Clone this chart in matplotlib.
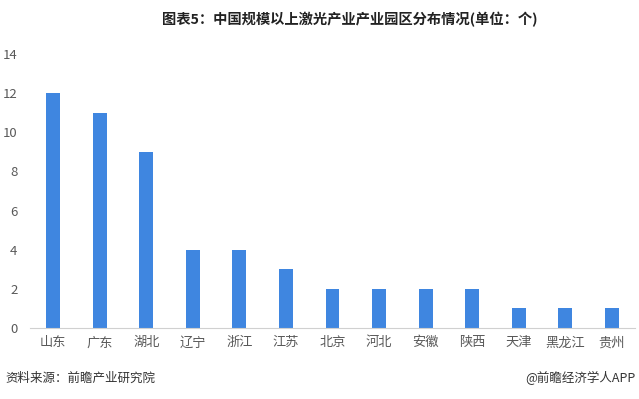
import matplotlib
matplotlib.use('Agg')
import matplotlib.pyplot as plt

plt.rcParams['font.family'] = ['Noto Sans CJK SC', 'DejaVu Sans']

# data
provinces = ['山东', '广东', '湖北', '辽宁', '浙江', '江苏', '北京', '河北',
             '安徽', '陕西', '天津', '黑龙江', '贵州']
counts = [12, 11, 9, 4, 4, 3, 2, 2, 2, 2, 1, 1, 1]
yticks = [0, 2, 4, 6, 8, 10, 12, 14]

W, H = 639, 399
fig = plt.figure(figsize=(W / 100, H / 100), dpi=100)
ax = fig.add_axes([30 / W, (H - 328) / H, 605 / W, 274 / H])

x = range(len(provinces))
ax.bar(x, counts, width=0.3, color='#3f86e0', zorder=2)
ax.set_xlim(-0.5, len(provinces) - 0.5)
ax.set_ylim(0, 14)
ax.set_yticks(yticks)
ax.set_xticks(list(x))
ax.set_xticklabels(provinces)
ax.tick_params(axis='both', length=0, labelsize=9.5, colors='#595959')
ax.tick_params(axis='y', pad=9)
ax.tick_params(axis='x', pad=6)
for s in ['top', 'right', 'left']:
    ax.spines[s].set_visible(False)
ax.spines['bottom'].set_color('#d0d0d0')

fig.text(350 / W, (H - 20) / H, '图表5：中国规模以上激光产业产业园区分布情况(单位：个)',
         ha='center', va='center', fontsize=10.3, fontweight='bold', color='#222222')
fig.text(5 / W, (H - 378) / H, '资料来源：前瞻产业研究院', ha='left', va='center',
         fontsize=9, color='#333333')
fig.text(636 / W, (H - 378) / H, '@前瞻经济学人APP', ha='right', va='center',
         fontsize=9, color='#333333')

fig.savefig('out.png', dpi=100)
